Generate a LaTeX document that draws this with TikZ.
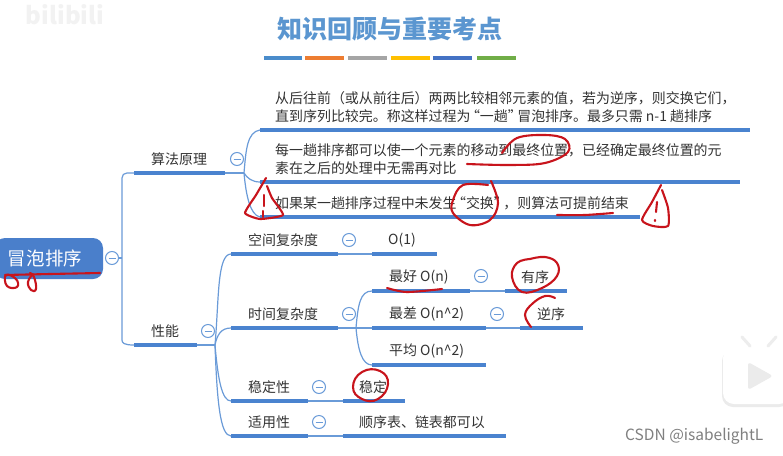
\documentclass[tikz,border=0pt]{standalone}
\usepackage{fontspec}
\setmainfont{Noto Sans CJK SC}
\usetikzlibrary{calc}
\definecolor{ulblue}{HTML}{4A83CF}
\definecolor{linkblue}{HTML}{6A9BD8}
\definecolor{titleblue}{HTML}{5B96D0}
\definecolor{rootblue}{HTML}{4A7FCB}
\definecolor{txt}{HTML}{333333}
\definecolor{redink}{HTML}{C8141C}
\definecolor{barblue}{HTML}{4A8CCB}
\definecolor{barorange}{HTML}{ED7D31}
\definecolor{bargray}{HTML}{A5A5A5}
\definecolor{baryellow}{HTML}{FFC000}
\definecolor{bardeep}{HTML}{4472C4}
\definecolor{bargreen}{HTML}{70AD47}
\tikzset{
  ul/.style={draw=ulblue,line width=3.2pt},
  link/.style={draw=linkblue,line width=1.2pt},
  lbl/.style={anchor=west,inner sep=0pt,text=txt,font=\fontsize{13.95}{18}\selectfont},
  para/.style={lbl,align=left},
  minus/.style={circle,draw=linkblue,line width=1pt,fill=white,minimum size=13pt,inner sep=0pt},
  ink/.style={draw=redink,line width=2.1pt,line cap=round,line join=round},
  bar/.style={line width=4.5pt}
}
\newcommand{\topicline}[4]{%
  \coordinate (#1L) at (#2,#4);
  \coordinate (#1R) at (#3,#4);
  \draw[ul] (#1L) -- (#1R);}
\newcommand{\minusbtn}[3]{%
  \node[minus] (#1) at (#2,#3) {};
  \draw[linkblue,line width=1pt] ($(#1)+(-3.5,0)$) -- ($(#1)+(3.5,0)$);}
\newcommand{\openq}{\hspace*{-4.5pt}“}
\newcommand{\closeq}{”\hspace*{-4.5pt}}
\begin{document}
\begin{tikzpicture}[x=1pt,y=-1pt]
\useasboundingbox (0,0) rectangle (783,455);
\fill[white] (0,0) rectangle (783,455);
\begin{scope}
\clip (0,0) rectangle (783,455);
% watermarks
\node[inner sep=0pt,text=black!5,font=\fontsize{24}{24}\bfseries\selectfont] (bili) at (65,15) {bilibili};
\fill[black!8,rounded corners=11pt] (722,350) rectangle (790,407);
\fill[white,rounded corners=11pt] (723,347) rectangle (790,404);
\draw[black!7,line width=3pt,line cap=round] (742,337) -- (750,346) (776,337) -- (768,346);
\fill[black!8,rounded corners=3pt] (748,362) -- (773,376) -- (748,390) -- cycle;
\node[anchor=west,inner sep=0pt,text=black!50,font=\fontsize{15.5}{16}\selectfont] (csdn) at (625,436) {CSDN @isabelightL};
% title
\node[inner sep=0pt,text=titleblue,font=\fontsize{25}{25}\bfseries\selectfont] (title) at (390,29) {知识回顾与重要考点};
\draw[bar,draw=barblue] (264,58) -- (302,58);
\draw[bar,draw=barorange] (305,58) -- (344,58);
\draw[bar,draw=bargray] (348,58) -- (387,58);
\draw[bar,draw=baryellow] (391,58) -- (430,58);
\draw[bar,draw=bardeep] (433,58) -- (472,58);
\draw[bar,draw=bargreen] (477,58) -- (516,58);
% underlines
\topicline{pa}{260}{750}{130}
\topicline{pb}{260}{740}{182}
\topicline{pc}{260}{640}{217}
\topicline{alg}{134}{225}{173}
\topicline{perf}{134}{197}{345}
\topicline{space}{231}{338}{254}
\topicline{one}{372}{437}{254}
\topicline{time}{231}{338}{328}
\topicline{best}{372}{470}{291}
\topicline{ord}{505}{567}{291}
\topicline{worst}{372}{486}{328}
\topicline{rev}{520}{583}{328}
\topicline{avg}{372}{486}{365}
\topicline{stab}{231}{308}{401}
\topicline{yes}{343}{405}{401}
\topicline{fit}{231}{308}{436}
\topicline{all}{343}{506}{436}
% root
\node[fill=rootblue,rounded corners=10pt,minimum width=108pt,minimum height=41pt,inner sep=0pt] (rootbox) at (49,258.5) {};
\node[inner sep=0pt,text=white,font=\fontsize{18.5}{18}\selectfont] (root) at (45,258) {冒泡排序};
\minusbtn{mroot}{112}{258}
\minusbtn{malg}{237}{159}
\minusbtn{mperf}{208}{331}
\minusbtn{mspace}{349}{240}
\minusbtn{mtime}{349}{314}
\minusbtn{mbest}{481}{276}
\minusbtn{mworst}{497}{314}
\minusbtn{mstab}{319}{387}
\minusbtn{mfit}{319}{422}
% connectors
\draw[link] (mroot.east) -- (122,258);
\draw[link] (algL) -- (127,173) .. controls (124,173) and (122,175) .. (122,178) -- (122,340) .. controls (122,343) and (124,345) .. (perfL);
\draw[link] (algR) -- (244,173);
\draw[link] (244,173) .. controls (246,150) and (247,132) .. (paL);
\draw[link] (244,173) .. controls (247,178) and (252,182) .. (pbL);
\draw[link] (244,173) .. controls (246,195) and (250,215) .. (pcL);
\draw[link] (perfR) -- (215,345);
\draw[link] (215,345) .. controls (219,300) and (217,254) .. (spaceL);
\draw[link] (215,345) .. controls (217,335) and (221,328) .. (timeL);
\draw[link] (215,345) .. controls (218,380) and (222,401) .. (stabL);
\draw[link] (215,345) .. controls (217,400) and (220,436) .. (fitL);
\draw[link] (spaceR) -- (oneL);
\draw[link] (timeR) -- (worstL);
\draw[link] (356,328) .. controls (358,305) and (360,291) .. (bestL);
\draw[link] (356,328) .. controls (358,350) and (362,365) .. (avgL);
\draw[link] (bestR) -- (ordL);
\draw[link] (worstR) -- (revL);
\draw[link] (stabR) -- (yesL);
\draw[link] (fitR) -- (allL);
% labels
\node[para] (ta) at (275,107) {从后往前（或从前往后）两两比较相邻元素的值，若为逆序，则交换它们，\\直到序列比较完。称这样过程为\openq 一趟\closeq 冒泡排序。最多只需 n-1 趟排序};
\node[para] (tb) at (275,159) {每一趟排序都可以使一个元素的移动到最终位置，已经确定最终位置的元\\素在之后的处理中无需再对比};
\node[lbl] (tc) at (275,203) {如果某一趟排序过程中未发生\openq 交换\closeq ，则算法可提前结束};
\node[lbl] (talg) at (151,159) {算法原理};
\node[lbl] (tperf) at (151,331) {性能};
\node[lbl] (tspace) at (248,240) {空间复杂度};
\node[lbl] (tone) at (388,240) {O(1)};
\node[lbl] (ttime) at (248,314) {时间复杂度};
\node[lbl] (tbest) at (389,277) {最好 O(n)};
\node[lbl] (tord) at (521,277) {有序};
\node[lbl] (tworst) at (389,314) {最差 O(n\^{}2)};
\node[lbl] (trev) at (537,314) {逆序};
\node[lbl] (tavg) at (389,351) {平均 O(n\^{}2)};
\node[lbl] (tstab) at (248,387) {稳定性};
\node[lbl] (tyes) at (359,387) {稳定};
\node[lbl] (tfit) at (248,422) {适用性};
\node[lbl] (tall) at (359,422) {顺序表、链表都可以};
% red annotations
\draw[ink] plot[smooth,tension=.6] coordinates {(502,153) (517,138) (545,135) (565,139) (568,152) (545,163) (510,165) (467,164)};
\draw[ink] plot[smooth,tension=.6] coordinates {(491,181) (498,203) (490,220) (470,225) (453,213) (453,200) (463,185) (488,185)};
\draw[ink] plot[smooth,tension=.4] coordinates {(557,215) (585,215) (613,213)};
\draw[ink] plot[smooth,tension=.3] coordinates {(266,178) (256,195) (245,213) (260,219) (283,215) (272,198) (267,186)};
\draw[ink] (264,195) -- (264,206) (263,211) -- (263,217);
\draw[ink] plot[smooth,tension=.4] coordinates {(661,185) (652,202) (642,220) (653,226) (668,226) (668,208) (662,190)};
\draw[ink] (657,202) -- (656,212) (655,220) -- (655,221);
\draw[ink] plot[smooth,tension=.3] coordinates {(5,275) (50,274) (100,273)};
\draw[ink] plot[smooth cycle,tension=.8] coordinates {(6,275) (7,286) (17,287) (16,279)};
\draw[ink] plot[smooth,tension=.8] coordinates {(33,274) (28,282) (31,290) (36,289) (34,277) (30,273)};
\draw[ink] plot[smooth cycle,tension=.8] coordinates {(362,372) (380,371) (388,384) (378,399) (362,399) (353,387)};
\draw[ink] plot[smooth,tension=.7] coordinates {(530,259) (545,257) (557,263) (557,276) (542,288) (522,292) (512,277) (517,263) (530,259)};
\draw[ink] plot[smooth,tension=.7] coordinates {(555,298) (545,296) (532,304) (525,315) (531,327)};
\draw[ink] plot[smooth,tension=.5] coordinates {(387,288) (407,292) (442,289)};
\end{scope}
\end{tikzpicture}
\end{document}
